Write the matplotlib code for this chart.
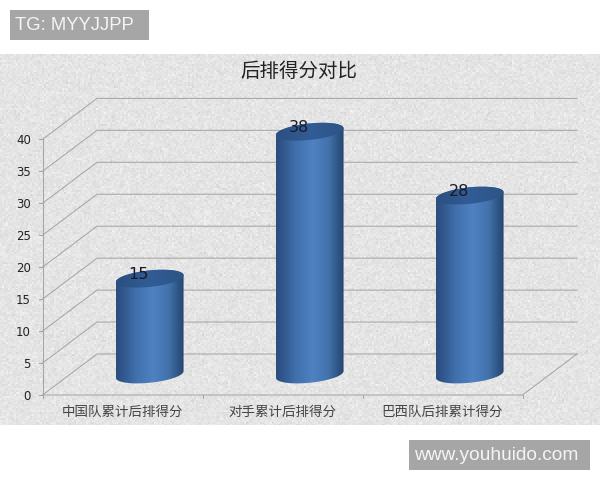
import numpy as np
import matplotlib
matplotlib.use("Agg")
import matplotlib.pyplot as plt
from matplotlib.colors import LinearSegmentedColormap
from matplotlib.patches import Polygon, Rectangle

plt.rcParams['font.family'] = ['Noto Sans CJK SC', 'DejaVu Sans']

categorias = ['中国队累计后排得分', '对手累计后排得分', '巴西队后排累计得分']
valores = [15, 38, 28]
ticks_y = [0, 5, 10, 15, 20, 25, 30, 35, 40]
titulo = '后排得分对比'

# escala: una categoria = 160 px, una unidad = 6.39 px
PX_X = 160.0
PX_Y = 6.39
X0, Y0 = 42.5, 395.0
FONDO_X = 54.5 / PX_X
FONDO_Y = 41.0 / PX_Y


def px_a_x(px):
    return (px - X0) / PX_X


def px_a_y(py):
    return (Y0 - py) / PX_Y


def elipse(cx, cy, t):
    # elipse inclinada, calculada en pixeles y pasada a datos
    rx, ry, giro = 34.0, 8.2, np.radians(6)
    dx = rx * np.cos(t) * np.cos(giro) - ry * np.sin(t) * np.sin(giro)
    dy = rx * np.cos(t) * np.sin(giro) + ry * np.sin(t) * np.cos(giro)
    return cx + dx / PX_X, cy + dy / PX_Y


fig = plt.figure(figsize=(6, 4.8), dpi=100)
ax = fig.add_axes([0, 0, 1, 1])
ax.axis('off')

# textura del fondo
rng = np.random.default_rng(7)
ruido = rng.normal(0, 1, (371 // 2 + 1, 300))
ruido = np.kron(ruido, np.ones((2, 2)))[:371, :600]
ruido = ruido + 0.4 * rng.normal(0, 1, (371, 600))
textura = np.clip(228 + 4.5 * ruido, 200, 248)
ax.imshow(textura, cmap='gray', vmin=0, vmax=255, aspect='auto', zorder=0,
          extent=(px_a_x(0), px_a_x(600), px_a_y(425), px_a_y(54)),
          interpolation='bilinear')

# rejilla: pared izquierda y pared del fondo
gris = '#a6a6a6'
n = len(categorias)
for v in ticks_y:
    ax.plot([0, FONDO_X, n + FONDO_X], [v, v + FONDO_Y, v + FONDO_Y],
            color=gris, lw=0.75, zorder=1)
    ax.plot([px_a_x(39), 0], [v, v], color=gris, lw=0.75, zorder=1)
    ax.text(px_a_x(31), v - 1.5 / PX_Y, str(v), ha='right', va='center', fontsize=8.5,
            color='#222222', family='DejaVu Sans', zorder=5)

ax.plot([0, 0], [0, ticks_y[-1]], color=gris, lw=0.75, zorder=1)
ax.plot([0, n, n + FONDO_X], [0, 0, FONDO_Y], color=gris, lw=0.75, zorder=1)
for i in range(n + 1):
    ax.plot([i, i], [0, px_a_y(398)], color=gris, lw=0.75, zorder=1)

# cilindros
cuerpo = LinearSegmentedColormap.from_list('cuerpo', [
    (0.0, '#2a4d7e'), (0.12, '#33598f'), (0.3, '#4172ae'),
    (0.55, '#4f82c2'), (0.78, '#4172ab'), (0.92, '#2f5484'), (1.0, '#264672')])
tapa = LinearSegmentedColormap.from_list('tapa', [
    (0.0, '#2b5082'), (0.5, '#315c94'), (1.0, '#2c5488')])
degradado = np.linspace(0, 1, 256).reshape(1, -1)

for i, v in enumerate(valores):
    cx = i + 0.5 + FONDO_X / 2
    cy_base = FONDO_Y / 2
    t = np.linspace(np.pi, 2 * np.pi, 60)
    x_abajo, y_abajo = elipse(cx, cy_base, t)
    t = np.linspace(0, np.pi, 60)
    x_arriba, y_arriba = elipse(cx, cy_base + v, t)
    borde = np.column_stack([np.r_[x_abajo, x_arriba], np.r_[y_abajo, y_arriba]])
    ext = (cx - 34 / PX_X, cx + 34 / PX_X, cy_base - 10, cy_base + v + 10)

    im = ax.imshow(degradado, cmap=cuerpo, aspect='auto', extent=ext, zorder=2)
    im.set_clip_path(Polygon(borde, transform=ax.transData))

    t = np.linspace(0, 2 * np.pi, 120)
    x_tapa, y_tapa = elipse(cx, cy_base + v, t)
    im = ax.imshow(degradado, cmap=tapa, aspect='auto', extent=ext, zorder=3)
    im.set_clip_path(Polygon(np.column_stack([x_tapa, y_tapa]), transform=ax.transData))

    ax.text(cx - 11 / PX_X, cy_base + v + 4.5 / PX_Y, str(v), ha='center', va='center',
            fontsize=11.5, color='#1a1a2a', family='DejaVu Sans', zorder=4)

    ax.text(i + 0.5, px_a_y(412), categorias[i], ha='center', va='center',
            fontsize=9.7, color='#444444', zorder=5)

ax.text(px_a_x(299), px_a_y(71.5), titulo, ha='center', va='center',
        fontsize=14, color='#222222', zorder=5)

# marcas de agua
for x1, x2, y1, y2, texto, xt, tam in [(10, 149, 40, 10, 'TG: MYYJJPP', 15, 13.3),
                                       (409, 590, 470, 440, 'www.youhuido.com', 414, 13.75)]:
    ax.add_patch(Rectangle((px_a_x(x1), px_a_y(y1)), (x2 - x1) / PX_X, (y1 - y2) / PX_Y,
                           facecolor='#a6a6a6', edgecolor='none', zorder=6))
    ax.text(px_a_x(xt), px_a_y((y1 + y2) / 2), texto, ha='left', va='center',
            fontsize=tam, color='#f4f4f4', family='Liberation Sans', zorder=7)

# imshow cambia los limites, se fijan al final
ax.set_xlim(px_a_x(0), px_a_x(600))
ax.set_ylim(px_a_y(480), px_a_y(0))

fig.savefig('out.png', dpi=100)
